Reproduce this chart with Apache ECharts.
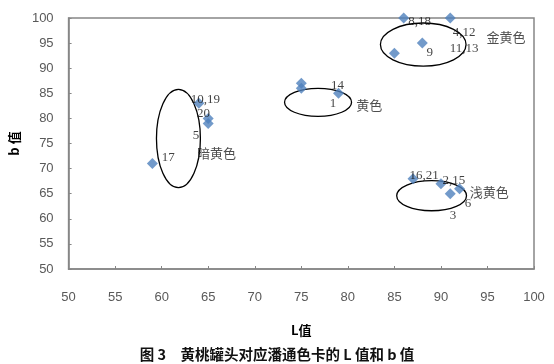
<!DOCTYPE html>
<html><head><meta charset="utf-8">
<script src="https://cdn.jsdelivr.net/npm/echarts@6/dist/echarts.min.js"></script>
<style>html,body{margin:0;padding:0;background:#fff}#c{width:554px;height:364px}</style>
</head><body><div id="c"></div>
<script>
// Sample points (L value, b value)
const L_values = [59, 64, 65, 65, 75, 75, 79, 86, 91, 88, 85, 87, 90, 91, 92];
const b_values = [71, 83, 80, 79, 87, 86, 85, 100, 100, 95, 93, 68, 67, 65, 66];

// Sample number annotations
const sampleLabels = ['17', '10,19', '20', '5', '14', '1', '8,18', '4,12', '11,13', '9', '16,21', '2,15', '6', '3'];
const sampleLabelL = [60.7, 64.7, 64.5, 63.7, 78.9, 78.4, 87.7, 92.5, 92.5, 88.8, 88.2, 91.4, 92.9, 91.3];
const sampleLabelB = [72.2, 83.8, 81.0, 76.6, 86.6, 83.0, 99.2, 97.0, 94.0, 93.2, 68.6, 67.6, 63.0, 60.6];

// Colour groups (ellipse centre and radii in data units)
const groupNames = ['暗黄色', '黄色', '金黄色', '浅黄色'];
const groupCenterL = [61.8, 76.8, 88.1, 89.0];
const groupCenterB = [76.0, 83.2, 94.7, 64.6];
const groupRadiusL = [2.36, 3.6, 4.6, 3.75];
const groupRadiusB = [9.8, 2.8, 4.3, 3.0];
const groupLabelL = [65.9, 82.3, 97.0, 95.2];
const groupLabelB = [73.0, 82.6, 96.2, 65.4];

const xTicks = [50, 55, 60, 65, 70, 75, 80, 85, 90, 95, 100];
const yTicks = [50, 55, 60, 65, 70, 75, 80, 85, 90, 95, 100];

const chart = echarts.init(document.getElementById('c'));
const axisCommon = {
  axisLine: {show: true, lineStyle: {color: '#868686', width: 1.5}},
  axisTick: {show: true, inside: true, length: 3, lineStyle: {color: '#868686'}},
  splitLine: {show: false},
  axisLabel: {color: '#595959', fontFamily: 'Liberation Sans', fontSize: 13}
};
chart.setOption({
  animation: false,
  grid: {left: 67, right: 20, top: 18, bottom: 95, show: true, borderColor: '#868686', borderWidth: 1.5},
  xAxis: Object.assign({}, axisCommon, {
    type: 'value', min: xTicks[0], max: xTicks[xTicks.length - 1], interval: 5,
    name: 'L值', nameLocation: 'middle', nameGap: 55,
    nameTextStyle: {fontWeight: 'bold', fontSize: 13, color: '#000', fontFamily: 'Noto Sans CJK SC'},
    axisLabel: Object.assign({}, axisCommon.axisLabel, {margin: 22})
  }),
  yAxis: Object.assign({}, axisCommon, {
    type: 'value', min: yTicks[0], max: yTicks[yTicks.length - 1], interval: 5,
    name: 'b 值', nameLocation: 'middle', nameGap: 45, nameRotate: 90,
    nameTextStyle: {fontWeight: 'bold', fontSize: 13, color: '#000', fontFamily: 'Noto Sans CJK SC'},
    axisLabel: Object.assign({}, axisCommon.axisLabel, {margin: 15})
  }),
  title: {
    text: '图 3　黄桃罐头对应潘通色卡的 L 值和 b 值',
    left: 272, textAlign: 'center', top: 342,
    textStyle: {fontSize: 14.5, fontWeight: 'bold', color: '#111', fontFamily: 'Noto Sans CJK SC'}
  },
  series: [
    {
      type: 'custom',
      renderItem: function (params, api) {
        const c = api.coord([api.value(0), api.value(1)]);
        const s = api.size([api.value(2), api.value(3)]);
        return {type: 'ellipse', shape: {cx: c[0], cy: c[1], rx: s[0], ry: s[1]},
          style: {fill: 'none', stroke: '#000', lineWidth: 1.3}};
      },
      data: groupCenterL.map((v, i) => [v, groupCenterB[i], groupRadiusL[i], groupRadiusB[i]]),
      z: 3, silent: true
    },
    {
      type: 'scatter', symbol: 'diamond', symbolSize: 11,
      itemStyle: {color: '#4f81bd'},
      data: L_values.map((v, i) => [v, b_values[i]]),
      z: 4
    },
    {
      type: 'scatter', symbolSize: 0, silent: true,
      data: sampleLabels.map((t, i) => ({value: [sampleLabelL[i], sampleLabelB[i]], name: t})),
      label: {show: true, position: 'inside', formatter: '{b}', color: '#111', fontSize: 13, fontFamily: 'Liberation Serif'},
      z: 5
    },
    {
      type: 'scatter', symbolSize: 0, silent: true,
      data: groupNames.map((t, i) => ({value: [groupLabelL[i], groupLabelB[i]], name: t})),
      label: {show: true, position: 'inside', formatter: '{b}', color: '#222', fontSize: 13, fontFamily: 'Noto Sans CJK SC'},
      z: 5
    }
  ]
});
</script></body></html>
